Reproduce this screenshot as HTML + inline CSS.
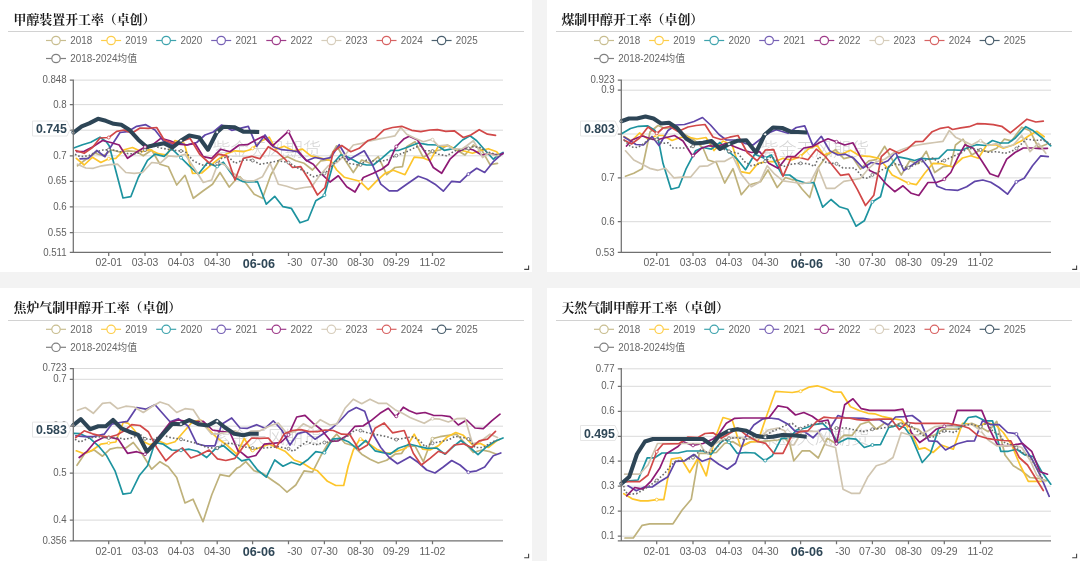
<!DOCTYPE html>
<html lang="zh-CN">
<head>
<meta charset="utf-8">
<title>甲醇开工率（卓创）</title>
<style>
html,body{margin:0;padding:0}
body{width:1080px;height:561px;background:#f3f3f3;overflow:hidden;position:relative;font-family:"Liberation Sans","Noto Sans CJK SC",sans-serif}
.panel{position:absolute;background:#fff;overflow:hidden}
.title{position:absolute;font:bold 12.9px/20px "Liberation Serif","Noto Serif CJK SC",serif;color:#1a1a1a;white-space:nowrap;letter-spacing:0}
.rule{position:absolute;width:516.5px;height:1px;background:#d2d2d2}
.chart{position:absolute;left:0;top:0}
.chart text{font-family:"Liberation Sans","Noto Sans CJK SC",sans-serif;font-size:10.4px;fill:#626262}
.chart text.st{text-anchor:start}
.lg text{fill:#666}
.yl text{text-anchor:end}
.xl text{text-anchor:middle}
.xl text.b,.cv{font-weight:bold;font-size:12px;fill:#2f4757}
.chart text.cv{font-weight:bold;font-size:12px;fill:#2f4757;text-anchor:end}
.chart .xl text.b{font-weight:bold;font-size:12px;fill:#2f4757}
.grid{stroke:#d2d2d2;stroke-width:0.85;fill:none}
.axis{stroke:#707070;stroke-width:1.25;fill:none}
.s{fill:none;stroke-width:1.7;stroke-linejoin:round;stroke-linecap:round}
.s.cur{stroke-width:4.1;stroke-linecap:butt}
.s.avg{stroke-width:1.6;stroke-dasharray:1.6 2;stroke-linecap:butt;stroke-linejoin:round}
.chart text.wm{font-family:"Liberation Sans","Noto Sans CJK SC",sans-serif;font-size:18.1px;font-weight:300;fill:#d6d6d6;text-anchor:middle}
.tag{fill:#fff;stroke:#e6e6e6;stroke-width:1}
.rz{fill:none;stroke:#444;stroke-width:1.1}
</style>
</head>
<body>

<div class="panel" style="left:0px;top:0px;width:532px;height:272px">
<div class="title" style="left:13.6px;top:9.5px">甲醇装置开工率（卓创）</div>
<div class="rule" style="left:7.5px;top:31px"></div>
<svg class="chart" style="left:0px" width="532" height="273" viewBox="0 0 532 273">
<g>
<g class="lg" transform="translate(0 0)">
<g opacity="0.85"><path d="M46 40.5 h20" stroke="#bfb27c" stroke-width="1.2" fill="none"/><circle cx="56" cy="40.5" r="4.2" fill="#fff" stroke="#bfb27c" stroke-width="1.2"/></g>
<text transform="translate(70.2 44.2) scale(0.95 1)">2018</text>
<g opacity="0.85"><path d="M101.1 40.5 h20" stroke="#fdc52a" stroke-width="1.2" fill="none"/><circle cx="111.1" cy="40.5" r="4.2" fill="#fff" stroke="#fdc52a" stroke-width="1.2"/></g>
<text transform="translate(125.3 44.2) scale(0.95 1)">2019</text>
<g opacity="0.85"><path d="M156.2 40.5 h20" stroke="#1d939f" stroke-width="1.2" fill="none"/><circle cx="166.2" cy="40.5" r="4.2" fill="#fff" stroke="#1d939f" stroke-width="1.2"/></g>
<text transform="translate(180.4 44.2) scale(0.95 1)">2020</text>
<g opacity="0.85"><path d="M211.2 40.5 h20" stroke="#5f45a8" stroke-width="1.2" fill="none"/><circle cx="221.2" cy="40.5" r="4.2" fill="#fff" stroke="#5f45a8" stroke-width="1.2"/></g>
<text transform="translate(235.4 44.2) scale(0.95 1)">2021</text>
<g opacity="0.85"><path d="M266.3 40.5 h20" stroke="#8e1a75" stroke-width="1.2" fill="none"/><circle cx="276.3" cy="40.5" r="4.2" fill="#fff" stroke="#8e1a75" stroke-width="1.2"/></g>
<text transform="translate(290.5 44.2) scale(0.95 1)">2022</text>
<g opacity="0.85"><path d="M321.4 40.5 h20" stroke="#d0c5b0" stroke-width="1.2" fill="none"/><circle cx="331.4" cy="40.5" r="4.2" fill="#fff" stroke="#d0c5b0" stroke-width="1.2"/></g>
<text transform="translate(345.6 44.2) scale(0.95 1)">2023</text>
<g opacity="0.85"><path d="M376.5 40.5 h20" stroke="#d14848" stroke-width="1.2" fill="none"/><circle cx="386.5" cy="40.5" r="4.2" fill="#fff" stroke="#d14848" stroke-width="1.2"/></g>
<text transform="translate(400.7 44.2) scale(0.95 1)">2024</text>
<g opacity="0.85"><path d="M431.6 40.5 h20" stroke="#2d4556" stroke-width="1.2" fill="none"/><circle cx="441.6" cy="40.5" r="4.2" fill="#fff" stroke="#2d4556" stroke-width="1.2"/></g>
<text transform="translate(455.8 44.2) scale(0.95 1)">2025</text>
<g opacity="0.85"><path d="M46 58.5 h20" stroke="#6a6a6a" stroke-width="1.2" fill="none"/><circle cx="56" cy="58.5" r="4.2" fill="#fff" stroke="#6a6a6a" stroke-width="1.2"/></g>
<text transform="translate(70.2 62.2) scale(0.95 1)">2018-2024均值</text>
</g>
<path class="grid" d="M73.3 80.1 H503 M73.3 104.6 H503 M73.3 130.2 H503 M73.3 155.8 H503 M73.3 181.3 H503 M73.3 206.9 H503 M73.3 232.5 H503"/>
<text class="wm" x="266.7" y="155.9">紫金天风期货</text>
</g>
<path class="s" stroke="#bfb27c" d="M77.5 165.8 L85 160 L95 153.3 L103.3 155.8 L111.7 150 L120 152 L128.3 150.8 L136.7 151.7 L143.3 155.8 L151.7 150 L160 164.2 L168.3 166.7 L176.7 185 L185 175.3 L193.3 198.3 L203.3 190.8 L212.5 184.2 L220 172.5 L229.2 187 L236.7 178.7 L240 176.7 L246.7 184.2 L254.2 194.2 L262.5 198.3 L270.8 175 L279.2 160 L287.5 156.7 L295.8 160.8 L304.2 163.3 L312.5 170 L320.8 160.8 L328.3 160 L336.7 145.8 L345 160 L353.3 172.5 L361.7 160 L370 163.3 L378.3 156.7 L386.7 174.7 L395 167.5 L402.5 166.7 L406.7 146.7 L415 141.7 L423.3 157.5 L431.7 151.7 L440 150 L447.5 145 L456.7 150 L465 155 L473.3 145 L481.7 150 L490 164.7 L497.5 163.3"/>
<path class="s" stroke="#fdc52a" d="M76.3 158.3 L84.2 165 L92.5 157.2 L100.8 162.5 L108.7 158.8 L115.8 158.3 L124.2 149.7 L132.5 147.5 L141.7 151.7 L150 149.7 L158.3 153.7 L166.7 155 L175 140.5 L184.2 143.3 L192.5 173.3 L201.7 173 L210 165.8 L218.3 159.2 L226.7 153.7 L235 150.8 L243.3 151.7 L251.7 149.2 L260.8 141.3 L269.2 137.2 L275.8 149.2 L284.2 146.3 L293.3 150.8 L302.5 149.2 L310.8 155.8 L321.7 158.3 L330.8 160.8 L336.7 170 L344.2 177.2 L360 181.3 L368.3 189.7 L376.7 180.8 L385 173.3 L393.3 170.3 L405 174.7 L414.2 157.2 L422.5 157.8 L430 160.8 L438.3 146.3 L447.5 145.8 L455.8 149.2 L463.3 150.8 L472.5 153.3 L480 150.8 L488.3 148.7 L496.7 151.7 L500 155.8"/>
<path class="s" stroke="#1d939f" d="M73.7 148 L82.5 144.7 L90.8 142.2 L100 137.2 L106.3 141.7 L109.2 145.8 L123 198 L130.8 196.7 L138.3 177.5 L147.5 160.3 L155 154.2 L164.2 156.3 L171.7 148.7 L180.8 157.5 L189.2 165.8 L198.3 174.2 L207.5 162.5 L216.7 166.7 L223.3 162.2 L234.2 177.5 L243.3 181.7 L248.3 182 L257.5 181.7 L266.3 204.2 L274.7 196.3 L283 206.7 L291.3 208.3 L300 222.8 L308 220 L315.8 200.8 L324.2 195.8 L333.3 163.3 L340.8 154.7 L348.3 157.2 L359.2 163.3 L366.7 165 L373.3 165 L381.7 158.3 L390.8 150.3 L398.3 150.5 L406.7 147.5 L418.3 143 L427.5 144.7 L436.7 145 L444.2 150.3 L453.3 148.7 L462.5 140 L470 135.8 L476.7 140.8 L483.3 148.3 L493.3 159.2 L498.3 155 L503 152.5"/>
<path class="s" stroke="#5f45a8" d="M80 158.8 L88.3 158.3 L96.7 150.5 L105 156.7 L108.7 150 L120 132.5 L127.5 131.7 L136.7 126.3 L145.8 124.7 L155 130 L163.3 140.8 L171.7 144.2 L180 143.3 L186.7 145 L196.7 142.5 L205 135 L213.3 132 L221.7 125 L231.7 130.3 L240 128.3 L248.3 126.3 L256.7 146.3 L265 135 L273.3 146.7 L281.7 149.7 L290 150.5 L297.5 151.7 L306.7 160.8 L315 157.5 L323.3 159.2 L330.8 157.5 L339.2 144.7 L348.3 160 L364.2 150.8 L372.5 165 L380.8 184.2 L389.2 190.8 L397.5 190.8 L406.7 184.2 L418.3 176.3 L426.7 179.2 L435 184.2 L443.3 191.2 L451.7 181.3 L460 182.2 L468.3 174.2 L476.7 168.3 L484.7 172.5 L493.3 161.7 L503 153"/>
<path class="s" stroke="#8e1a75" d="M76.7 151.7 L84.2 151.3 L92.5 147 L102.5 140.5 L110.8 142.5 L119.2 145 L127.5 158.3 L136.7 152 L145 147 L153.3 144.2 L160.8 138.3 L170 140.8 L178.3 144.2 L186.7 145 L195 143.3 L203.3 156.7 L211.7 158.3 L220.8 149.2 L230 151.7 L239.2 145 L247.5 144.7 L255.8 140 L263.3 136.3 L272.5 145.8 L288.3 131.3 L297.5 150 L305.8 160 L313.3 164.2 L321.7 174.2 L330 182 L338.3 175.8 L346.7 186.7 L355 192 L363.3 177.5 L373.3 173.3 L381.7 169.2 L388.3 164.2 L395.8 147 L404.2 138.7 L409.2 136.3 L417.5 140 L425.8 153.3 L433.3 167.5 L441.7 173.3 L450 159.2 L458.3 151.7 L465.8 148 L473.3 150 L481.7 155 L490 153.7 L498.3 155.3 L503 153.7"/>
<path class="s" stroke="#d0c5b0" d="M77.5 164.2 L85.8 168 L93.3 168.3 L101.7 165.8 L110 164.7 L117.5 164.2 L125.8 172.5 L134.2 173.3 L142.5 172.5 L151.7 162.5 L160 163.3 L168.3 155.8 L176.7 156.7 L185 154.2 L193.3 166.7 L203.3 182.5 L211.7 180 L218.3 162.5 L225 165 L233.3 173.3 L243.3 180 L246.7 180.8 L254.2 180.8 L262.5 176.7 L270 163 L278.3 184.2 L286.7 186.3 L295.8 189.2 L304.2 187.5 L311.7 186.7 L320 175 L328.3 165.8 L336.7 162.5 L345 155 L353.3 145 L361.7 143.3 L370 140.8 L378.3 139.2 L386.7 137.5 L395 135.8 L400.8 127.5 L406.7 134.2 L415 138.3 L423.3 141.7 L432 139.2 L438.3 145.8 L446.7 145 L453.3 149.2 L461.7 149.2 L466.7 145.8 L473.3 140.8 L480 151.7 L482.5 157.5 L488.3 153.3 L495.8 155.8 L499.2 155"/>
<path class="s" stroke="#d14848" d="M75.8 150.5 L84.2 153.3 L92.5 147.5 L100 138 L108.7 137.5 L116.7 131.3 L124.2 130 L131.7 133.3 L140 128 L148.3 128.3 L156.7 127.5 L164.2 140 L172.5 143.3 L180.8 141.7 L190 138.3 L200 154.7 L209.2 163 L218.3 154.2 L226.7 155.8 L235 180 L243.3 158.3 L251.7 156.3 L260 158.8 L268.3 146.7 L276.7 151.7 L284.2 158.3 L292.5 167.5 L300.8 166.7 L309.2 180 L317.5 195 L325 187.5 L333.3 151.7 L341.7 145.5 L350.8 151.7 L359.2 148.3 L367.5 140.8 L375 138.3 L384.2 129.7 L392.5 127.5 L401.7 126.3 L411.7 130.3 L420.8 131.7 L430 130 L437.5 129.7 L445.8 131.3 L454.2 130.8 L463.3 137.5 L470.8 135 L479.2 129.7 L487.5 134.2 L495.5 135.3"/>
<path class="s avg" stroke="#6a6a6a" d="M75 154.2 L80 156.7 L88.3 155.8 L96.7 151.7 L103.3 150 L111.7 149.7 L120 151.7 L128.3 153.7 L136.7 153.7 L145 150 L153.3 145.8 L160.8 148 L170 149.7 L178.3 150.8 L185 151.3 L193.3 160.8 L201.7 165 L210 165 L216.7 164.2 L221.7 158.3 L228.3 156.7 L235 163.3 L243.3 160 L251.7 160 L260 164.2 L270 162.5 L278.3 160.8 L288.3 162.5 L298.3 168.3 L306.7 172.5 L313.3 176.7 L325 173.3 L330.8 167.5 L336.7 160.8 L343.3 156.7 L348.3 163.3 L360 165.3 L366.7 160 L378.3 161.7 L386.7 160 L395.8 155.8 L406.7 151.7 L415 147.5 L420 145.8 L425 150.8 L432 150.8 L438.3 154.2 L446.7 155.8 L455 150.8 L463.3 150 L473.3 146.7 L480 147.5 L486.7 151.7 L495 154.2 L500 155"/>
<path class="s cur" stroke="#2d4556" d="M72.5 133.3 L81.7 126.3 L89.2 123.3 L98 118.8 L105.8 120.8 L113.7 123.8 L121.3 124.7 L129.2 129.7 L138.3 139.7 L146.7 147 L155 145 L164.2 143.3 L172.5 147.5 L180.8 140.8 L189.2 135.5 L199.2 137.5 L208 149.7 L216.7 132.5 L223.3 126.7 L234.2 127.2 L243.3 131.7 L250 131.7 L259.2 132"/>
<circle cx="432.5" cy="151.5" r="1.5" fill="#fff" stroke="#bfb27c" stroke-width="0.8"/>
<circle cx="108.7" cy="158.8" r="1.5" fill="#fff" stroke="#fdc52a" stroke-width="0.8"/>
<circle cx="252.6" cy="148.4" r="1.5" fill="#fff" stroke="#fdc52a" stroke-width="0.8"/>
<circle cx="360.5" cy="181.8" r="1.5" fill="#fff" stroke="#fdc52a" stroke-width="0.8"/>
<circle cx="181" cy="157.7" r="1.5" fill="#fff" stroke="#1d939f" stroke-width="0.8"/>
<circle cx="217.2" cy="166.4" r="1.5" fill="#fff" stroke="#1d939f" stroke-width="0.8"/>
<circle cx="324.4" cy="195.1" r="1.5" fill="#fff" stroke="#1d939f" stroke-width="0.8"/>
<circle cx="468.4" cy="174.1" r="1.5" fill="#fff" stroke="#5f45a8" stroke-width="0.8"/>
<circle cx="145" cy="147" r="1.5" fill="#fff" stroke="#8e1a75" stroke-width="0.8"/>
<circle cx="288.5" cy="131.7" r="1.5" fill="#fff" stroke="#8e1a75" stroke-width="0.8"/>
<circle cx="396.3" cy="146.5" r="1.5" fill="#fff" stroke="#8e1a75" stroke-width="0.8"/>
<circle cx="432.5" cy="139.7" r="1.5" fill="#fff" stroke="#d0c5b0" stroke-width="0.8"/>
<circle cx="108.7" cy="137.5" r="1.5" fill="#fff" stroke="#d14848" stroke-width="0.8"/>
<circle cx="108.7" cy="149.8" r="1.5" fill="#fff" stroke="#6a6a6a" stroke-width="0.8"/>
<circle cx="145" cy="150" r="1.5" fill="#fff" stroke="#6a6a6a" stroke-width="0.8"/>
<circle cx="181" cy="151" r="1.5" fill="#fff" stroke="#6a6a6a" stroke-width="0.8"/>
<circle cx="217.2" cy="163.6" r="1.5" fill="#fff" stroke="#6a6a6a" stroke-width="0.8"/>
<circle cx="252.6" cy="160.5" r="1.5" fill="#fff" stroke="#6a6a6a" stroke-width="0.8"/>
<circle cx="288.5" cy="162.6" r="1.5" fill="#fff" stroke="#6a6a6a" stroke-width="0.8"/>
<circle cx="324.4" cy="173.5" r="1.5" fill="#fff" stroke="#6a6a6a" stroke-width="0.8"/>
<circle cx="360.5" cy="164.9" r="1.5" fill="#fff" stroke="#6a6a6a" stroke-width="0.8"/>
<circle cx="396.3" cy="155.6" r="1.5" fill="#fff" stroke="#6a6a6a" stroke-width="0.8"/>
<circle cx="432.5" cy="151.1" r="1.5" fill="#fff" stroke="#6a6a6a" stroke-width="0.8"/>
<circle cx="468.4" cy="148.3" r="1.5" fill="#fff" stroke="#6a6a6a" stroke-width="0.8"/>
<circle cx="73.3" cy="132.7" r="1.5" fill="#fff" stroke="#2d4556" stroke-width="0.8"/>
<circle cx="181" cy="140.7" r="1.5" fill="#fff" stroke="#2d4556" stroke-width="0.8"/>
<circle cx="217.2" cy="132.1" r="1.5" fill="#fff" stroke="#2d4556" stroke-width="0.8"/>
<g>
<path class="axis" d="M73.3 79.5 V252.4 M72.8 252.4 H503 M69.8 80.1 h3.5 M69.8 104.6 h3.5 M69.8 130.2 h3.5 M69.8 155.8 h3.5 M69.8 181.3 h3.5 M69.8 206.9 h3.5 M69.8 232.5 h3.5 M69.8 252.4 h3.5 M108.7 252.4 v3.5 M145 252.4 v3.5 M181 252.4 v3.5 M217.2 252.4 v3.5 M252.6 252.4 v3.5 M288.5 252.4 v3.5 M324.4 252.4 v3.5 M360.5 252.4 v3.5 M396.3 252.4 v3.5 M432.5 252.4 v3.5"/>
<g class="yl">
<text transform="translate(66.6 83.1) scale(0.93 1)">0.848</text>
<text transform="translate(66.6 107.6) scale(0.93 1)">0.8</text>
<text transform="translate(66.6 158.8) scale(0.93 1)">0.7</text>
<text transform="translate(66.6 184.3) scale(0.93 1)">0.65</text>
<text transform="translate(66.6 209.9) scale(0.93 1)">0.6</text>
<text transform="translate(66.6 235.5) scale(0.93 1)">0.55</text>
<text transform="translate(66.6 255.6) scale(0.93 1)">0.511</text>
</g>
<g class="xl">
<text transform="translate(108.7 266.3) scale(1.0 1)">02-01</text>
<text transform="translate(145 266.3) scale(1.0 1)">03-03</text>
<text transform="translate(181 266.3) scale(1.0 1)">04-03</text>
<text transform="translate(217.2 266.3) scale(1.0 1)">04-30</text>
<text class="st" transform="translate(287.2 266.3) scale(1.0 1)">-30</text>
<text transform="translate(324.4 266.3) scale(1.0 1)">07-30</text>
<text transform="translate(360.5 266.3) scale(1.0 1)">08-30</text>
<text transform="translate(396.3 266.3) scale(1.0 1)">09-29</text>
<text transform="translate(432.5 266.3) scale(1.0 1)">11-02</text>
<text class="b" transform="translate(258.8 267.7) scale(1.05 1)">06-06</text>
</g>
<path class="tag" d="M32.5 121 H67 L70.5 128.5 L67 136 H32.5 Z"/>
<text class="cv" transform="translate(66.8 133.1) scale(1.03 1)">0.745</text>
<path class="rz" d="M524.2 269.4 H528.6 V265.4"/>
</g>
</svg></div>
<div class="panel" style="left:547px;top:0px;width:533px;height:272px">
<div class="title" style="left:14.4px;top:9.5px">煤制甲醇开工率（卓创）</div>
<div class="rule" style="left:8.5px;top:31px"></div>
<svg class="chart" style="left:1px" width="532" height="273" viewBox="0 0 532 273">
<g>
<g class="lg" transform="translate(0 0)">
<g opacity="0.85"><path d="M46 40.5 h20" stroke="#bfb27c" stroke-width="1.2" fill="none"/><circle cx="56" cy="40.5" r="4.2" fill="#fff" stroke="#bfb27c" stroke-width="1.2"/></g>
<text transform="translate(70.2 44.2) scale(0.95 1)">2018</text>
<g opacity="0.85"><path d="M101.1 40.5 h20" stroke="#fdc52a" stroke-width="1.2" fill="none"/><circle cx="111.1" cy="40.5" r="4.2" fill="#fff" stroke="#fdc52a" stroke-width="1.2"/></g>
<text transform="translate(125.3 44.2) scale(0.95 1)">2019</text>
<g opacity="0.85"><path d="M156.2 40.5 h20" stroke="#1d939f" stroke-width="1.2" fill="none"/><circle cx="166.2" cy="40.5" r="4.2" fill="#fff" stroke="#1d939f" stroke-width="1.2"/></g>
<text transform="translate(180.4 44.2) scale(0.95 1)">2020</text>
<g opacity="0.85"><path d="M211.2 40.5 h20" stroke="#5f45a8" stroke-width="1.2" fill="none"/><circle cx="221.2" cy="40.5" r="4.2" fill="#fff" stroke="#5f45a8" stroke-width="1.2"/></g>
<text transform="translate(235.4 44.2) scale(0.95 1)">2021</text>
<g opacity="0.85"><path d="M266.3 40.5 h20" stroke="#8e1a75" stroke-width="1.2" fill="none"/><circle cx="276.3" cy="40.5" r="4.2" fill="#fff" stroke="#8e1a75" stroke-width="1.2"/></g>
<text transform="translate(290.5 44.2) scale(0.95 1)">2022</text>
<g opacity="0.85"><path d="M321.4 40.5 h20" stroke="#d0c5b0" stroke-width="1.2" fill="none"/><circle cx="331.4" cy="40.5" r="4.2" fill="#fff" stroke="#d0c5b0" stroke-width="1.2"/></g>
<text transform="translate(345.6 44.2) scale(0.95 1)">2023</text>
<g opacity="0.85"><path d="M376.5 40.5 h20" stroke="#d14848" stroke-width="1.2" fill="none"/><circle cx="386.5" cy="40.5" r="4.2" fill="#fff" stroke="#d14848" stroke-width="1.2"/></g>
<text transform="translate(400.7 44.2) scale(0.95 1)">2024</text>
<g opacity="0.85"><path d="M431.6 40.5 h20" stroke="#2d4556" stroke-width="1.2" fill="none"/><circle cx="441.6" cy="40.5" r="4.2" fill="#fff" stroke="#2d4556" stroke-width="1.2"/></g>
<text transform="translate(455.8 44.2) scale(0.95 1)">2025</text>
<g opacity="0.85"><path d="M46 58.5 h20" stroke="#6a6a6a" stroke-width="1.2" fill="none"/><circle cx="56" cy="58.5" r="4.2" fill="#fff" stroke="#6a6a6a" stroke-width="1.2"/></g>
<text transform="translate(70.2 62.2) scale(0.95 1)">2018-2024均值</text>
</g>
<path class="grid" d="M73.3 80.1 H503 M73.3 90.2 H503 M73.3 134 H503 M73.3 177.9 H503 M73.3 221.7 H503"/>
<text class="wm" x="266.7" y="155.9">紫金天风期货</text>
</g>
<path class="s" stroke="#bfb27c" d="M77.5 176.3 L85.8 173.3 L94.2 168.8 L102 132 L110 125.5 L117 128.5 L125 127.5 L146 140 L155 148 L160 160 L168.3 162.5 L176.7 183 L185 168.7 L193.3 194.7 L201.7 184.7 L212.5 181.7 L220 170 L229.2 187.5 L237.5 177.5 L245 180 L246.7 179.2 L254.2 189.2 L261.7 197.5 L265.8 183.3 L270.8 166.7 L279.2 155 L287.5 149.7 L295.8 158.7 L304.2 156.7 L312.5 169.2 L320.8 160.8 L328.3 159.7 L336.7 146.3 L345 160.8 L353.3 175 L361.7 160.8 L370 163.8 L378.3 151.3 L386.7 172.5 L395 166.7 L402.5 165.8 L407.5 145 L415 139.2 L423.7 155 L432 150 L440.3 151.7 L448.7 148.3 L456.2 139.2 L463.7 140.8 L473.7 127.2 L482 130.8 L490.3 147.5 L498.7 144.2"/>
<path class="s" stroke="#fdc52a" d="M76 136.5 L83.5 141 L91.5 133 L100 139 L109 135.5 L115 135.5 L124 140.5 L132 137.5 L140 137 L149 139 L158 137.5 L166 150.5 L175 141 L184.2 145 L192.5 171.7 L201.7 173.3 L210 163.3 L218.3 161.7 L226.7 161.7 L235 158.3 L243.3 160 L251.7 157 L260.8 148.7 L269.2 145.5 L275.8 155 L284.2 151.7 L293.3 154.2 L302.5 150.3 L311.7 155.8 L321.7 156.3 L330.8 158.3 L338.3 166.7 L344.2 175 L360 183 L368.3 184.7 L376.7 173.3 L385 163.3 L393.3 163.7 L404.5 167 L414.5 158 L422.8 155.8 L430.3 158.3 L438.7 145 L447.8 144.7 L455.3 148.3 L465.3 145 L473.7 140.8 L481.2 135.5 L488.7 131.3 L496.2 136.7"/>
<path class="s" stroke="#1d939f" d="M74 133.5 L82.5 128.5 L90.5 126.3 L99.5 125.8 L107 130.5 L110 138 L115 163.3 L123 189.2 L130.8 187.2 L138.3 168.3 L147.5 150.8 L155 147.5 L163.3 149.2 L172 142.5 L180.8 151.7 L189.2 159.2 L197.5 169.7 L206.7 154.2 L216.7 158.3 L223.3 155 L234.2 175 L241.7 175 L248.3 180 L257.5 183 L265.8 182.5 L274.7 207.2 L283 199.5 L291.3 206.7 L299.7 209.2 L308 226.2 L316.3 220.8 L324.2 202 L332.5 196.7 L340 168.3 L349.2 156.7 L359.2 158.7 L366.7 160.5 L373.3 158.3 L381.7 159.2 L390.8 158.3 L399.2 150 L407 150 L413.7 150.3 L422 146.7 L428.7 144.7 L437 145.5 L444.5 140.5 L452 143 L460.3 143 L467 138.3 L477.8 126.7 L485.3 130.8 L493.7 137.5 L502.8 145.8"/>
<path class="s" stroke="#5f45a8" d="M76 137 L81 140 L88 144.5 L95.5 145 L104 136.5 L111 145.5 L120 130.5 L128 125 L136.5 124.5 L146 121.5 L154.5 117.5 L162.5 125 L171 134.5 L178.3 140 L186.7 140 L196.7 143.3 L205 145 L213.3 138.3 L221.7 132.5 L228.3 129.7 L240 133.3 L248.3 127.5 L256.7 125.8 L265 145.8 L273.3 136.3 L281.7 150.8 L290 155 L297.5 154.2 L305.8 158.3 L315 168 L323.3 162.5 L331.7 164.2 L340 160.8 L347.5 152.2 L355.8 170.5 L364.2 165 L373.3 158.7 L380.8 168.3 L389.2 186.3 L397.5 189.5 L410 190.3 L418.7 186.7 L427 181.3 L434.8 180 L442.8 182.2 L451.2 187.5 L459.5 194.2 L468.2 182 L476.2 178.3 L484.5 165.8 L492.8 155.8 L500.3 156.7"/>
<path class="s" stroke="#8e1a75" d="M78.5 146 L84 140 L90 137.5 L94.5 136 L105 139.5 L110 139.5 L126.5 135.5 L135 141 L144.5 156 L153.3 148.3 L160.8 145.8 L170 146.3 L178.3 143.3 L186.7 146.7 L195 150 L203.3 152.5 L211.7 151.7 L220.8 163.3 L230 168.3 L239.2 156.7 L246.7 156.7 L255.8 148 L264.2 146.7 L271.7 142.5 L280 138.8 L288.3 141.7 L296.7 145 L305 142.8 L313.3 158.3 L321.7 170.5 L330 174.5 L338.3 184.2 L346.7 191.7 L355 185.8 L363.3 193.3 L370.8 195.5 L380 182.5 L388.3 182.5 L395.8 179.7 L402.8 172.5 L410.3 156.7 L417 144.7 L425.3 148.3 L433.7 160.8 L442 173.8 L450.3 176.7 L458.7 159.2 L467 152.5 L475.3 148 L483.7 148 L492 148.7 L499.5 148.3"/>
<path class="s" stroke="#d0c5b0" d="M77.5 150.8 L85.8 160 L94.2 164.2 L101.7 168.3 L110 170.3 L117.5 168.3 L125.8 177.8 L134.2 177.2 L142.5 177.2 L151.7 166.3 L160 165.8 L168.3 161.3 L176.7 161.3 L185 156.7 L193.3 174.2 L203.3 186.7 L211.7 182 L219.2 165.8 L226.7 174.2 L235 180.8 L243.3 182 L246.7 182.5 L254.2 183.7 L262.5 182 L270 167.5 L278.3 188.3 L286.7 188.3 L295.8 181.3 L304.2 180 L312.5 178.3 L320 169.2 L328.3 161.7 L336.7 159.2 L345 153.3 L353.3 149.7 L361.7 146.7 L370 145 L378.3 143.7 L386.7 142.5 L395 141.3 L401.3 130.5 L407.5 137.2 L415.3 140.8 L423.7 145 L432 140.5 L440.3 145.5 L448.7 143.7 L455.3 147.5 L465.3 145 L473.7 135.5 L482 151.7 L490.3 143.3 L497.8 153.3"/>
<path class="s" stroke="#d14848" d="M76 140 L83.5 144 L91.5 138 L100 127 L109 133.5 L115 128 L122 126.5 L130 131.5 L140 127 L148 125.5 L157 124.5 L165 137 L173 139.5 L181.7 137.2 L190 135.5 L199.2 152.5 L209.2 160.8 L217.5 150 L225.8 149.7 L235 176.3 L243.3 157.5 L251.7 157.5 L260 159.7 L268.3 149.2 L276.7 155.8 L284.2 165 L292.5 175.3 L300.8 174.2 L309.2 189.2 L317.5 205.5 L325.8 195.3 L333.3 156.7 L341.7 148.8 L350.8 153.3 L359.2 149.2 L367.5 141.7 L375 141.3 L384.2 131.7 L392.5 128.3 L400.3 127 L404.5 129.5 L412.8 127.8 L421.2 126.7 L429 123.7 L437 123.8 L445.3 124.7 L453.7 126.3 L462.3 132.8 L470.3 126.3 L479 119.2 L487.8 122 L495.3 121.2"/>
<path class="s avg" stroke="#6a6a6a" d="M76 140 L83 147 L90 147.5 L96 143.5 L101 139 L109 139.5 L114 143.5 L120 142.8 L125 148 L136 148 L144.5 146.5 L154 142 L160.8 143 L170 146.7 L180.8 151.3 L190 153.3 L196.7 161.7 L203.3 165.8 L210 164.2 L216.7 161.7 L223.3 156.7 L228.3 160 L235 166.7 L243.3 164.2 L251.7 163.3 L260 163.7 L266.7 166.3 L270.8 156.7 L278.3 162.5 L288.3 163.7 L295 168 L306.7 168 L315 177.5 L320 178.3 L324.2 175 L330.8 171.7 L340 166.7 L348.3 163.8 L360 168 L366.7 164.7 L378.3 160 L385 158 L390 162 L395.8 160.8 L403.7 157 L413.7 152.5 L420.3 148 L425.3 149.2 L432 149.7 L440.3 152.2 L448.7 151.7 L457 153.3 L462.8 151.7 L468.2 148.7 L478.7 139.2 L487 140.3 L495.3 140 L502.8 144.2"/>
<path class="s cur" stroke="#2d4556" d="M72.8 121.5 L81 118.5 L89 118.5 L97.5 116.5 L105.5 118.5 L113 123.5 L121 122.8 L129 128 L138 138.5 L146 143.5 L155 142.8 L163.5 141 L172 149 L180.8 144.2 L189.2 140.8 L198.3 140.3 L208 152.5 L216.7 134.7 L225 127.5 L234.2 128 L243.3 132 L250 132 L259.2 132.5"/>
<circle cx="432.5" cy="150.1" r="1.5" fill="#fff" stroke="#bfb27c" stroke-width="0.8"/>
<circle cx="108.7" cy="135.6" r="1.5" fill="#fff" stroke="#fdc52a" stroke-width="0.8"/>
<circle cx="252.6" cy="156.2" r="1.5" fill="#fff" stroke="#fdc52a" stroke-width="0.8"/>
<circle cx="360.5" cy="183.1" r="1.5" fill="#fff" stroke="#fdc52a" stroke-width="0.8"/>
<circle cx="181" cy="151.9" r="1.5" fill="#fff" stroke="#1d939f" stroke-width="0.8"/>
<circle cx="217.2" cy="158.1" r="1.5" fill="#fff" stroke="#1d939f" stroke-width="0.8"/>
<circle cx="324.4" cy="201.9" r="1.5" fill="#fff" stroke="#1d939f" stroke-width="0.8"/>
<circle cx="468.4" cy="181.9" r="1.5" fill="#fff" stroke="#5f45a8" stroke-width="0.8"/>
<circle cx="145" cy="155.6" r="1.5" fill="#fff" stroke="#8e1a75" stroke-width="0.8"/>
<circle cx="288.5" cy="141.8" r="1.5" fill="#fff" stroke="#8e1a75" stroke-width="0.8"/>
<circle cx="396.3" cy="179.2" r="1.5" fill="#fff" stroke="#8e1a75" stroke-width="0.8"/>
<circle cx="432.5" cy="140.8" r="1.5" fill="#fff" stroke="#d0c5b0" stroke-width="0.8"/>
<circle cx="108.7" cy="133.3" r="1.5" fill="#fff" stroke="#d14848" stroke-width="0.8"/>
<circle cx="108.7" cy="139.5" r="1.5" fill="#fff" stroke="#6a6a6a" stroke-width="0.8"/>
<circle cx="145" cy="146.3" r="1.5" fill="#fff" stroke="#6a6a6a" stroke-width="0.8"/>
<circle cx="181" cy="151.3" r="1.5" fill="#fff" stroke="#6a6a6a" stroke-width="0.8"/>
<circle cx="217.2" cy="161.3" r="1.5" fill="#fff" stroke="#6a6a6a" stroke-width="0.8"/>
<circle cx="252.6" cy="163.3" r="1.5" fill="#fff" stroke="#6a6a6a" stroke-width="0.8"/>
<circle cx="288.5" cy="163.8" r="1.5" fill="#fff" stroke="#6a6a6a" stroke-width="0.8"/>
<circle cx="324.4" cy="174.9" r="1.5" fill="#fff" stroke="#6a6a6a" stroke-width="0.8"/>
<circle cx="360.5" cy="167.8" r="1.5" fill="#fff" stroke="#6a6a6a" stroke-width="0.8"/>
<circle cx="396.3" cy="160.6" r="1.5" fill="#fff" stroke="#6a6a6a" stroke-width="0.8"/>
<circle cx="432.5" cy="149.9" r="1.5" fill="#fff" stroke="#6a6a6a" stroke-width="0.8"/>
<circle cx="468.4" cy="148.5" r="1.5" fill="#fff" stroke="#6a6a6a" stroke-width="0.8"/>
<circle cx="73.3" cy="121.3" r="1.5" fill="#fff" stroke="#2d4556" stroke-width="0.8"/>
<circle cx="181" cy="144.1" r="1.5" fill="#fff" stroke="#2d4556" stroke-width="0.8"/>
<circle cx="217.2" cy="134.3" r="1.5" fill="#fff" stroke="#2d4556" stroke-width="0.8"/>
<g>
<path class="axis" d="M73.3 79.5 V252.4 M72.8 252.4 H503 M69.8 80.1 h3.5 M69.8 90.2 h3.5 M69.8 134 h3.5 M69.8 177.9 h3.5 M69.8 221.7 h3.5 M69.8 252.4 h3.5 M108.7 252.4 v3.5 M145 252.4 v3.5 M181 252.4 v3.5 M217.2 252.4 v3.5 M252.6 252.4 v3.5 M288.5 252.4 v3.5 M324.4 252.4 v3.5 M360.5 252.4 v3.5 M396.3 252.4 v3.5 M432.5 252.4 v3.5"/>
<g class="yl">
<text transform="translate(66.6 83.1) scale(0.93 1)">0.923</text>
<text transform="translate(66.6 93.2) scale(0.93 1)">0.9</text>
<text transform="translate(66.6 180.9) scale(0.93 1)">0.7</text>
<text transform="translate(66.6 224.7) scale(0.93 1)">0.6</text>
<text transform="translate(66.6 255.6) scale(0.93 1)">0.53</text>
</g>
<g class="xl">
<text transform="translate(108.7 266.3) scale(1.0 1)">02-01</text>
<text transform="translate(145 266.3) scale(1.0 1)">03-03</text>
<text transform="translate(181 266.3) scale(1.0 1)">04-03</text>
<text transform="translate(217.2 266.3) scale(1.0 1)">04-30</text>
<text class="st" transform="translate(287.2 266.3) scale(1.0 1)">-30</text>
<text transform="translate(324.4 266.3) scale(1.0 1)">07-30</text>
<text transform="translate(360.5 266.3) scale(1.0 1)">08-30</text>
<text transform="translate(396.3 266.3) scale(1.0 1)">09-29</text>
<text transform="translate(432.5 266.3) scale(1.0 1)">11-02</text>
<text class="b" transform="translate(258.8 267.7) scale(1.05 1)">06-06</text>
</g>
<path class="tag" d="M32.5 121 H67 L70.5 128.5 L67 136 H32.5 Z"/>
<text class="cv" transform="translate(66.8 133.1) scale(1.03 1)">0.803</text>
<path class="rz" d="M524.2 269.4 H528.6 V265.4"/>
</g>
</svg></div>
<div class="panel" style="left:0px;top:288px;width:532px;height:272.6px">
<div class="title" style="left:13.6px;top:10.3px">焦炉气制甲醇开工率（卓创）</div>
<div class="rule" style="left:7.5px;top:31.8px"></div>
<svg class="chart" style="left:0px" width="532" height="273" viewBox="0 0 532 273">
<g transform="translate(0 0.4)">
<g class="lg" transform="translate(0 0.4)">
<g opacity="0.85"><path d="M46 40.5 h20" stroke="#bfb27c" stroke-width="1.2" fill="none"/><circle cx="56" cy="40.5" r="4.2" fill="#fff" stroke="#bfb27c" stroke-width="1.2"/></g>
<text transform="translate(70.2 44.2) scale(0.95 1)">2018</text>
<g opacity="0.85"><path d="M101.1 40.5 h20" stroke="#fdc52a" stroke-width="1.2" fill="none"/><circle cx="111.1" cy="40.5" r="4.2" fill="#fff" stroke="#fdc52a" stroke-width="1.2"/></g>
<text transform="translate(125.3 44.2) scale(0.95 1)">2019</text>
<g opacity="0.85"><path d="M156.2 40.5 h20" stroke="#1d939f" stroke-width="1.2" fill="none"/><circle cx="166.2" cy="40.5" r="4.2" fill="#fff" stroke="#1d939f" stroke-width="1.2"/></g>
<text transform="translate(180.4 44.2) scale(0.95 1)">2020</text>
<g opacity="0.85"><path d="M211.2 40.5 h20" stroke="#5f45a8" stroke-width="1.2" fill="none"/><circle cx="221.2" cy="40.5" r="4.2" fill="#fff" stroke="#5f45a8" stroke-width="1.2"/></g>
<text transform="translate(235.4 44.2) scale(0.95 1)">2021</text>
<g opacity="0.85"><path d="M266.3 40.5 h20" stroke="#8e1a75" stroke-width="1.2" fill="none"/><circle cx="276.3" cy="40.5" r="4.2" fill="#fff" stroke="#8e1a75" stroke-width="1.2"/></g>
<text transform="translate(290.5 44.2) scale(0.95 1)">2022</text>
<g opacity="0.85"><path d="M321.4 40.5 h20" stroke="#d0c5b0" stroke-width="1.2" fill="none"/><circle cx="331.4" cy="40.5" r="4.2" fill="#fff" stroke="#d0c5b0" stroke-width="1.2"/></g>
<text transform="translate(345.6 44.2) scale(0.95 1)">2023</text>
<g opacity="0.85"><path d="M376.5 40.5 h20" stroke="#d14848" stroke-width="1.2" fill="none"/><circle cx="386.5" cy="40.5" r="4.2" fill="#fff" stroke="#d14848" stroke-width="1.2"/></g>
<text transform="translate(400.7 44.2) scale(0.95 1)">2024</text>
<g opacity="0.85"><path d="M431.6 40.5 h20" stroke="#2d4556" stroke-width="1.2" fill="none"/><circle cx="441.6" cy="40.5" r="4.2" fill="#fff" stroke="#2d4556" stroke-width="1.2"/></g>
<text transform="translate(455.8 44.2) scale(0.95 1)">2025</text>
<g opacity="0.85"><path d="M46 58.5 h20" stroke="#6a6a6a" stroke-width="1.2" fill="none"/><circle cx="56" cy="58.5" r="4.2" fill="#fff" stroke="#6a6a6a" stroke-width="1.2"/></g>
<text transform="translate(70.2 62.2) scale(0.95 1)">2018-2024均值</text>
</g>
<path class="grid" d="M73.3 80.1 H503 M73.3 90.9 H503 M73.3 137.8 H503 M73.3 184.8 H503 M73.3 231.7 H503"/>
<text class="wm" x="266.7" y="155.9">紫金天风期货</text>
</g>
<path class="s" stroke="#bfb27c" d="M77 177.3 L85 165.3 L94.2 162 L102.5 168.2 L110 161.2 L117.5 159.5 L125.8 160 L133.3 154.5 L141.7 165.3 L151.7 181.2 L160 173.7 L168.3 178.7 L176.7 189.5 L185 215 L193 211.2 L203 233.7 L211.7 207 L220 186.7 L229.2 188.3 L236.7 180.3 L240 178.7 L245.8 173.7 L254.2 182.8 L262.5 185.3 L270.8 191.2 L279.2 197 L287 204.2 L295.8 197 L304.2 182.8 L312.5 184.2 L320.8 167.8 L328.3 155.3 L336.7 146.2 L345 155.3 L353.3 157.8 L361.7 166.2 L370 171.2 L378.3 175 L386.7 172.3 L395 166.2 L401.7 165.3 L405.8 158.7 L415 157.8 L423.3 173.7 L432 150.8 L440 148.7 L448.3 147.3 L456.7 146.2 L465 155.3 L473.3 164.5 L481.7 162 L490 163.7 L496.7 166.2"/>
<path class="s" stroke="#fdc52a" d="M76.3 162.8 L84.2 165.8 L92.5 162 L100.8 156.2 L108.7 155 L115.8 154 L123.3 134.2 L128.3 135.3 L134.2 142 L141.7 152.8 L150 156.7 L158.3 152.8 L166.7 156.2 L175 153.7 L184.2 143.3 L192.5 133.7 L200.8 132 L208.3 141.2 L216.7 149.5 L226.7 157 L236.7 166.2 L244.2 150.3 L251.7 162.8 L260 159.5 L269.2 156.2 L276.7 159.5 L285 163.2 L294.2 172 L302.5 175 L310.8 180.3 L317.5 182.8 L327.5 193.3 L335.8 197.5 L343.7 197.5 L348.3 177.8 L353.3 162 L360 150.8 L368.3 155.3 L376.7 161.2 L386.7 165.3 L393.3 164.5 L405.8 160.3 L414.2 146.2 L422.5 161.2 L430 162 L438.3 157.8 L447.5 148.7 L455.8 144.5 L463.3 147.3 L472.5 157 L480 155.3 L488.3 159.5 L496.7 152.8 L500 151.2"/>
<path class="s" stroke="#1d939f" d="M73.7 145.3 L80 145.7 L90 150.3 L98.3 157.8 L106.7 167.8 L115 182.8 L123 206.2 L130.8 205 L139.2 187.8 L147.5 177.8 L155 154.5 L163.3 156.2 L171.7 162 L180.8 162.3 L189.2 161.2 L197.5 163.3 L206.7 169.5 L215 161.2 L223.3 157.5 L232.5 165.3 L241.7 172.8 L249.2 171.2 L257.5 182 L266.3 189.2 L274.7 172 L283 178.2 L291.3 174.2 L300 177 L308.3 171.2 L315.8 163.7 L324.2 165 L332.5 151.2 L340 150.3 L348.3 153.7 L356.7 160.3 L365.8 152.5 L375 162.8 L390 166.2 L398.3 160.3 L410 156.2 L418.3 158.3 L427.5 160.3 L436.7 160 L445 166.2 L453.3 158.7 L460.8 152.5 L470 159.5 L478 166.7 L486.7 158.7 L495 153.3 L503 150"/>
<path class="s" stroke="#5f45a8" d="M75.8 147.8 L85 148.7 L93.3 148.7 L104.2 146.2 L111.7 136.2 L120 134.5 L127.5 133.3 L136.7 119.5 L145.8 121.2 L155 116.7 L162.5 125.3 L170 133.7 L178.3 130.7 L188.3 138.3 L196.7 155.7 L205 157.8 L215 157.8 L221.7 136.2 L231.7 130 L240 140 L247.5 140.3 L256.7 136.7 L265 140.3 L273.3 132.8 L281.7 142 L290 157 L297.5 145.7 L305.8 143.7 L315 151.2 L323.3 145.7 L331.7 140.3 L339.2 133.7 L348.3 123.7 L356.3 119.5 L364.7 123.3 L372.5 145.3 L380.8 159.5 L389.2 169.5 L397.5 175.7 L410 168.7 L418.3 174.5 L426.7 182 L435 185 L443.3 179 L451.7 172.5 L460 177 L468.3 184.2 L476.7 182.8 L484.7 179 L493.3 167.8 L500.8 165"/>
<path class="s" stroke="#8e1a75" d="M79.2 169.5 L86.7 163.7 L95 153.7 L103.3 149.5 L110.8 149.5 L118.3 151.2 L127.5 165.3 L136.7 163.7 L145 166.2 L153.3 155.3 L160.8 146.2 L170 134.5 L178.3 132 L186.7 133.3 L195 133.7 L203.3 133.3 L212.5 142 L220.8 143.3 L230 144.5 L238.3 163.3 L240 163.3 L247.5 169.5 L255.8 167.5 L264.2 156.2 L272.5 155.3 L280.8 154.5 L288.3 147.3 L296.7 129 L305 127.3 L313.3 135.3 L321.7 142 L330.8 153.3 L338.3 152.8 L346.7 147.8 L355 138.3 L363.3 137.8 L370.8 132.8 L380 125.3 L388.3 120.3 L395.8 129 L403.3 119.2 L409.2 122.8 L416.7 125.7 L425 124.5 L433.3 127.3 L441.7 127.5 L450 128.7 L458.3 137 L466.7 132 L475 140 L483.3 140.7 L491.7 132.8 L500 126.2"/>
<path class="s" stroke="#d0c5b0" d="M77.5 122.3 L85.3 119.5 L93.3 125.3 L102.5 115.3 L110 114.5 L117.5 120.7 L125.8 118.2 L134.2 119 L143.3 124.5 L151.7 118.7 L160 114 L168.3 116.7 L176.7 124.5 L185 120.7 L193.3 121.7 L201.7 134.5 L211.7 146.2 L218.3 145.7 L226.7 144.5 L235 142.8 L243.3 147 L250 143.7 L260 142.8 L270 137.8 L278.3 135 L286.7 145.3 L295 143.7 L303.3 135.8 L311.7 140 L320.3 131.7 L330 137 L336.7 136.2 L345 120.3 L353.3 111.2 L361.7 115.7 L370 111.2 L378.3 115.3 L386.7 115.3 L395 121.7 L402.5 125.3 L410 129.5 L416.7 132.3 L424.2 135.3 L432 130.7 L440 131.2 L448.3 134 L456.7 130.7 L465 130.3 L472.5 155.7 L480 153.7 L490 146.2 L497.5 149.5"/>
<path class="s" stroke="#d14848" d="M75.8 149.5 L84.2 142.8 L92.5 145.8 L100.8 147.8 L108.7 149.2 L116.7 147 L124.2 142.8 L131.7 136.7 L140 137.5 L148.3 143.7 L156.7 159.5 L165.8 172.8 L174.2 165 L182.5 160 L190.8 170 L199.2 167 L209.2 162 L217.5 170.8 L225.8 172.5 L235 170.3 L243.3 158.7 L251.7 150 L260 150.3 L268.3 150 L276.3 159.5 L284.2 145.8 L292.5 142.5 L300.8 141.7 L309.2 143.7 L317.5 143.7 L325 142 L333.3 142.5 L341.7 146.2 L350 146.7 L359.2 162 L367.5 157 L375 140.3 L384.2 135 L392.5 144.8 L404.2 142.5 L413.3 165.3 L421.3 177 L430 170.3 L438.3 163.3 L445.8 165.7 L454.2 157 L463.3 155.8 L471.7 159.5 L479.2 152.8 L487.5 151.2 L495.5 143.3"/>
<path class="s avg" stroke="#6a6a6a" d="M75 151.2 L80 154 L88.3 150.3 L98.3 148.7 L108.7 150 L116.7 149.5 L125 151.2 L133.3 149.5 L140 146.2 L145 150.8 L153.3 151.7 L161.7 146.7 L170 149.5 L180.8 151.2 L190 153.7 L198.3 155.7 L206.7 159.5 L216.7 160.3 L223.3 156.2 L230 155 L236.7 157 L243.3 158.7 L251.7 160 L260 160.3 L270 159.5 L278.3 158.7 L288.3 160.7 L293.3 163.3 L298.3 159.5 L306.7 153.7 L315 157 L324.2 154.5 L330.8 153.7 L340 151.7 L348.3 147.8 L355 142 L360 142.5 L366.7 144.5 L378.3 147 L386.7 148.7 L395.8 151.7 L403.3 150.3 L413.3 148.7 L420 152.8 L425 158.7 L432 155.3 L440 153.7 L448.3 152 L455 148.3 L463.3 149.5 L469.2 151.2 L475 159.5 L483.3 159.5 L490 155.3 L496.7 152"/>
<path class="s cur" stroke="#2d4556" d="M72.5 137.8 L80.8 131.2 L90 141.2 L98.3 138.3 L105.8 138.3 L113 132 L121.3 140.3 L129.2 143.7 L138.3 147 L147 163.7 L155 155.3 L163.3 145.7 L172.5 135.7 L180.8 136.2 L189.2 132 L198.3 136.2 L208 137.5 L216.7 132.8 L225 139.5 L234.2 145.7 L243.3 147.3 L250 145.7 L258.7 145.7"/>
<circle cx="432.5" cy="150.7" r="1.5" fill="#fff" stroke="#bfb27c" stroke-width="0.8"/>
<circle cx="108.7" cy="155" r="1.5" fill="#fff" stroke="#fdc52a" stroke-width="0.8"/>
<circle cx="252.6" cy="162.4" r="1.5" fill="#fff" stroke="#fdc52a" stroke-width="0.8"/>
<circle cx="360.5" cy="151.1" r="1.5" fill="#fff" stroke="#fdc52a" stroke-width="0.8"/>
<circle cx="181" cy="162.3" r="1.5" fill="#fff" stroke="#1d939f" stroke-width="0.8"/>
<circle cx="217.2" cy="160.2" r="1.5" fill="#fff" stroke="#1d939f" stroke-width="0.8"/>
<circle cx="324.4" cy="164.7" r="1.5" fill="#fff" stroke="#1d939f" stroke-width="0.8"/>
<circle cx="468.4" cy="184.2" r="1.5" fill="#fff" stroke="#5f45a8" stroke-width="0.8"/>
<circle cx="145" cy="166.2" r="1.5" fill="#fff" stroke="#8e1a75" stroke-width="0.8"/>
<circle cx="288.5" cy="146.9" r="1.5" fill="#fff" stroke="#8e1a75" stroke-width="0.8"/>
<circle cx="396.3" cy="128.3" r="1.5" fill="#fff" stroke="#8e1a75" stroke-width="0.8"/>
<circle cx="432.5" cy="130.7" r="1.5" fill="#fff" stroke="#d0c5b0" stroke-width="0.8"/>
<circle cx="108.7" cy="149.2" r="1.5" fill="#fff" stroke="#d14848" stroke-width="0.8"/>
<circle cx="108.7" cy="150" r="1.5" fill="#fff" stroke="#6a6a6a" stroke-width="0.8"/>
<circle cx="145" cy="150.8" r="1.5" fill="#fff" stroke="#6a6a6a" stroke-width="0.8"/>
<circle cx="181" cy="151.3" r="1.5" fill="#fff" stroke="#6a6a6a" stroke-width="0.8"/>
<circle cx="217.2" cy="160" r="1.5" fill="#fff" stroke="#6a6a6a" stroke-width="0.8"/>
<circle cx="252.6" cy="160" r="1.5" fill="#fff" stroke="#6a6a6a" stroke-width="0.8"/>
<circle cx="288.5" cy="160.8" r="1.5" fill="#fff" stroke="#6a6a6a" stroke-width="0.8"/>
<circle cx="324.4" cy="154.5" r="1.5" fill="#fff" stroke="#6a6a6a" stroke-width="0.8"/>
<circle cx="360.5" cy="142.6" r="1.5" fill="#fff" stroke="#6a6a6a" stroke-width="0.8"/>
<circle cx="396.3" cy="151.6" r="1.5" fill="#fff" stroke="#6a6a6a" stroke-width="0.8"/>
<circle cx="432.5" cy="155.2" r="1.5" fill="#fff" stroke="#6a6a6a" stroke-width="0.8"/>
<circle cx="468.4" cy="151" r="1.5" fill="#fff" stroke="#6a6a6a" stroke-width="0.8"/>
<circle cx="73.3" cy="137.2" r="1.5" fill="#fff" stroke="#2d4556" stroke-width="0.8"/>
<circle cx="181" cy="136.1" r="1.5" fill="#fff" stroke="#2d4556" stroke-width="0.8"/>
<circle cx="217.2" cy="133.2" r="1.5" fill="#fff" stroke="#2d4556" stroke-width="0.8"/>
<g transform="translate(0 0.4)">
<path class="axis" d="M73.3 79.5 V252.4 M72.8 252.4 H503 M69.8 80.1 h3.5 M69.8 90.9 h3.5 M69.8 137.8 h3.5 M69.8 184.8 h3.5 M69.8 231.7 h3.5 M69.8 252.4 h3.5 M108.7 252.4 v3.5 M145 252.4 v3.5 M181 252.4 v3.5 M217.2 252.4 v3.5 M252.6 252.4 v3.5 M288.5 252.4 v3.5 M324.4 252.4 v3.5 M360.5 252.4 v3.5 M396.3 252.4 v3.5 M432.5 252.4 v3.5"/>
<g class="yl">
<text transform="translate(66.6 83.1) scale(0.93 1)">0.723</text>
<text transform="translate(66.6 93.9) scale(0.93 1)">0.7</text>
<text transform="translate(66.6 140.8) scale(0.93 1)">0.6</text>
<text transform="translate(66.6 187.8) scale(0.93 1)">0.5</text>
<text transform="translate(66.6 234.7) scale(0.93 1)">0.4</text>
<text transform="translate(66.6 255.6) scale(0.93 1)">0.356</text>
</g>
<g class="xl">
<text transform="translate(108.7 266.3) scale(1.0 1)">02-01</text>
<text transform="translate(145 266.3) scale(1.0 1)">03-03</text>
<text transform="translate(181 266.3) scale(1.0 1)">04-03</text>
<text transform="translate(217.2 266.3) scale(1.0 1)">04-30</text>
<text class="st" transform="translate(287.2 266.3) scale(1.0 1)">-30</text>
<text transform="translate(324.4 266.3) scale(1.0 1)">07-30</text>
<text transform="translate(360.5 266.3) scale(1.0 1)">08-30</text>
<text transform="translate(396.3 266.3) scale(1.0 1)">09-29</text>
<text transform="translate(432.5 266.3) scale(1.0 1)">11-02</text>
<text class="b" transform="translate(258.8 267.7) scale(1.05 1)">06-06</text>
</g>
<path class="tag" d="M32.5 133.7 H67 L70.5 141.2 L67 148.7 H32.5 Z"/>
<text class="cv" transform="translate(66.8 145.8) scale(1.03 1)">0.583</text>
<path class="rz" d="M524.2 269.4 H528.6 V265.4"/>
</g>
</svg></div>
<div class="panel" style="left:547px;top:288px;width:533px;height:272.6px">
<div class="title" style="left:14.4px;top:10.3px">天然气制甲醇开工率（卓创）</div>
<div class="rule" style="left:8.5px;top:31.8px"></div>
<svg class="chart" style="left:1px" width="532" height="273" viewBox="0 0 532 273">
<g transform="translate(0 0.4)">
<g class="lg" transform="translate(0 0.4)">
<g opacity="0.85"><path d="M46 40.5 h20" stroke="#bfb27c" stroke-width="1.2" fill="none"/><circle cx="56" cy="40.5" r="4.2" fill="#fff" stroke="#bfb27c" stroke-width="1.2"/></g>
<text transform="translate(70.2 44.2) scale(0.95 1)">2018</text>
<g opacity="0.85"><path d="M101.1 40.5 h20" stroke="#fdc52a" stroke-width="1.2" fill="none"/><circle cx="111.1" cy="40.5" r="4.2" fill="#fff" stroke="#fdc52a" stroke-width="1.2"/></g>
<text transform="translate(125.3 44.2) scale(0.95 1)">2019</text>
<g opacity="0.85"><path d="M156.2 40.5 h20" stroke="#1d939f" stroke-width="1.2" fill="none"/><circle cx="166.2" cy="40.5" r="4.2" fill="#fff" stroke="#1d939f" stroke-width="1.2"/></g>
<text transform="translate(180.4 44.2) scale(0.95 1)">2020</text>
<g opacity="0.85"><path d="M211.2 40.5 h20" stroke="#5f45a8" stroke-width="1.2" fill="none"/><circle cx="221.2" cy="40.5" r="4.2" fill="#fff" stroke="#5f45a8" stroke-width="1.2"/></g>
<text transform="translate(235.4 44.2) scale(0.95 1)">2021</text>
<g opacity="0.85"><path d="M266.3 40.5 h20" stroke="#8e1a75" stroke-width="1.2" fill="none"/><circle cx="276.3" cy="40.5" r="4.2" fill="#fff" stroke="#8e1a75" stroke-width="1.2"/></g>
<text transform="translate(290.5 44.2) scale(0.95 1)">2022</text>
<g opacity="0.85"><path d="M321.4 40.5 h20" stroke="#d0c5b0" stroke-width="1.2" fill="none"/><circle cx="331.4" cy="40.5" r="4.2" fill="#fff" stroke="#d0c5b0" stroke-width="1.2"/></g>
<text transform="translate(345.6 44.2) scale(0.95 1)">2023</text>
<g opacity="0.85"><path d="M376.5 40.5 h20" stroke="#d14848" stroke-width="1.2" fill="none"/><circle cx="386.5" cy="40.5" r="4.2" fill="#fff" stroke="#d14848" stroke-width="1.2"/></g>
<text transform="translate(400.7 44.2) scale(0.95 1)">2024</text>
<g opacity="0.85"><path d="M431.6 40.5 h20" stroke="#2d4556" stroke-width="1.2" fill="none"/><circle cx="441.6" cy="40.5" r="4.2" fill="#fff" stroke="#2d4556" stroke-width="1.2"/></g>
<text transform="translate(455.8 44.2) scale(0.95 1)">2025</text>
<g opacity="0.85"><path d="M46 58.5 h20" stroke="#6a6a6a" stroke-width="1.2" fill="none"/><circle cx="56" cy="58.5" r="4.2" fill="#fff" stroke="#6a6a6a" stroke-width="1.2"/></g>
<text transform="translate(70.2 62.2) scale(0.95 1)">2018-2024均值</text>
</g>
<path class="grid" d="M73.3 80.4 H503 M73.3 97.9 H503 M73.3 122.9 H503 M73.3 147.9 H503 M73.3 172.8 H503 M73.3 197.8 H503 M73.3 222.8 H503 M73.3 247.8 H503"/>
<text class="wm" x="266.7" y="155.9">紫金天风期货</text>
</g>
<path class="s" stroke="#bfb27c" d="M77 250 L85.3 250 L94.2 237.3 L101.7 235.8 L125 235.8 L134.2 222 L143.3 211.2 L151.2 165.3 L160 165.3 L168.3 164.5 L176.7 155.3 L185 153.7 L193.3 158.7 L203.3 153.7 L211.7 153.7 L220 152.8 L230 152 L236.7 150.3 L241.7 155.3 L245.8 172.8 L254.2 162.8 L261.7 162.8 L270.3 170 L279.2 150.3 L287.5 155.3 L295.8 147.3 L304.2 147.3 L312.5 136.2 L320.8 133.7 L328.3 141.2 L336.7 135 L345 138.7 L353.3 134.5 L361.7 138.7 L370 141.2 L378.3 148.7 L386.7 147 L395 141.2 L402.5 141.2 L411.2 141.2 L415.3 137 L423.7 135.3 L432 138.7 L440.3 143.7 L448.7 133.3 L457 167 L465.3 177.8 L473.7 182.8 L482 189.5 L490.3 190.3 L498.7 192.8"/>
<path class="s" stroke="#fdc52a" d="M75.8 205.7 L84.2 210.8 L92.5 212.8 L100 212.8 L108.7 211.7 L115.8 211.7 L123.3 171.2 L132.5 169.5 L141.7 184.5 L150 170.3 L158.3 187.8 L163.3 164.5 L168.3 147 L175 129.5 L184.2 132 L192.5 158.7 L201.7 154 L210 153.3 L218.3 128.7 L227.5 103.3 L236.7 104 L244.2 104.5 L252.5 103.2 L260.8 99.2 L269.2 97.8 L276.7 100 L285.8 104 L293.3 104.2 L302.5 118.7 L311.7 122.8 L320 125.3 L326.7 125.8 L335 128.7 L344.2 130.7 L353.3 132 L360 139.5 L365 148.7 L370.8 161.2 L376.7 159.8 L385 164.5 L393.3 157 L405.3 161.2 L414.5 135.3 L422.8 136.2 L430.3 138.7 L438.7 134.5 L447.8 137 L455.3 144.5 L463.7 157 L472 177 L480.3 193.3 L493.7 193.3"/>
<path class="s" stroke="#1d939f" d="M73.7 195.3 L81.7 192.8 L90 192 L99.2 169.8 L106.7 169.8 L114 165 L130 165 L139 163 L155 163 L163 166.5 L172 155.3 L176.7 151.2 L180.8 154 L189.2 165.3 L197.5 164.5 L206.7 165 L216.7 172.8 L224.2 167.8 L233.3 150.3 L241.7 150.3 L248.3 142 L257.5 140 L265.8 136.7 L274.7 135.3 L283 143.7 L290 155 L299.7 150.3 L308 151.2 L316.3 159.5 L324.2 157 L332.5 156.7 L340.8 139.5 L349.2 137.5 L356.7 139.5 L363.3 148.7 L374.2 174.5 L382.5 165.3 L390.8 140.3 L399.5 137.5 L407 138.3 L413.7 138.7 L420.3 129.5 L427.8 128.3 L437 132.8 L444.5 132.8 L452.8 163.3 L460.3 163.3 L468.7 161.2 L477 167 L485.3 168.7 L493.7 183.7 L502.8 196.2"/>
<path class="s" stroke="#5f45a8" d="M80 197.8 L88.3 202.8 L95.8 199.2 L104.2 199 L111.7 193.7 L120 188.7 L127.5 173.3 L136.7 172.8 L145.8 166.5 L154.2 173.3 L162.5 170.3 L170.8 176.2 L179.2 181.2 L187.5 175.3 L197.5 148.7 L205.8 137 L214.2 131.2 L221.7 130 L230.8 131.2 L240 136.2 L247.5 143.7 L256.7 143.7 L265 149.8 L273.3 141.2 L281.7 140.7 L290 127.5 L297.5 130 L305.8 130 L315 130.3 L323.3 131.7 L331.7 131.7 L340 137 L347.5 129 L355.8 128.7 L364.2 127.5 L372.5 133.7 L380.8 152.8 L389.2 153.3 L397.5 162 L409.5 155.7 L418.7 153.2 L426.5 152.8 L434.5 132.8 L442.8 136.7 L451.2 136.7 L459.5 144.5 L468.2 145.7 L476.2 158.7 L484.5 172 L492.8 188.7 L501.2 208.3"/>
<path class="s" stroke="#8e1a75" d="M78.7 207.8 L86.7 199.5 L95 201.2 L103.3 192.8 L111.7 180.3 L118 166 L130 158.5 L135 153.5 L144.5 157.5 L155 155.5 L165 151 L170 147 L178.3 135.3 L186.7 130.3 L195 130 L211.7 130 L220.8 130 L230 117.8 L239.2 119.5 L247.5 127 L255.8 124.5 L264.2 128.3 L271.7 133.7 L280 132 L288.3 156.7 L296.7 116.7 L305 110.8 L313.3 120.7 L321.7 122.3 L346.7 122.3 L355 121.2 L363.3 144.5 L371.7 154.5 L380 148.7 L388.3 141.2 L395.8 138.3 L404.2 137.8 L409.2 122.3 L433.7 122.3 L441.2 140.3 L449.5 157 L458.7 157.8 L467 156.7 L474.5 155.3 L483.7 163.3 L492 183.7 L499.5 186.2"/>
<path class="s" stroke="#d0c5b0" d="M76.7 186.2 L91.7 186.2 L100 177 L109.5 155.5 L152 155.5 L155 161 L160 166 L165 157 L173.3 152 L181.7 150.3 L191.7 149.5 L201.7 151.2 L211.7 150.3 L220 142 L230 140 L236.7 142.8 L243.3 157 L245.8 157 L254.2 143.3 L270 143.3 L278.3 157 L287.5 159.5 L295 201.2 L303.3 205.3 L311.7 205.3 L320 188.7 L328.3 177.8 L336.7 175.3 L345 169.5 L353.3 144.5 L361.7 147 L370 147 L378.3 143.7 L386.7 138.7 L395 137.8 L403.3 138.7 L415.3 137 L423.7 136.2 L432 142 L440.3 152 L448.7 157.8 L458.7 157.8 L468.7 157.8 L473.7 159.5 L482 172 L488.7 187 L497 193.7"/>
<path class="s" stroke="#d14848" d="M78.3 193.7 L91.7 193.7 L100 187 L103 179 L109 163 L115 156 L131 155.7 L140 149 L150 149.5 L157 145.5 L165 144.8 L173.3 150.3 L181.7 145.3 L190 140.3 L199.2 147.8 L209.2 153.3 L217.5 155.3 L225.8 165.3 L235 165.3 L243.3 148.7 L251.7 143.7 L260 142.8 L268.3 133.7 L275.8 129.2 L284.2 130 L300.8 130 L309.2 131.7 L317.5 132.3 L325 131.7 L333.3 131.2 L343.3 131.2 L351.3 141.7 L359.2 134.5 L367.5 135.3 L375 135.3 L400 135.3 L413.7 137.8 L421.2 140.3 L430.3 147.8 L438.7 150.3 L447 151.7 L455.3 152.5 L462.8 152.8 L471.2 169.5 L479.5 177 L495.3 202.5"/>
<path class="s avg" stroke="#6a6a6a" d="M75.8 197.8 L76.7 203.7 L81.7 206.2 L88.3 205.7 L95 202 L101.7 197.8 L108.7 192.5 L116.7 185.3 L123.3 177 L128.3 172.8 L136.7 172 L144.7 170 L153.3 161.2 L160.8 165.3 L168.3 160.3 L173.3 153.7 L180.8 150.3 L190 149.5 L196.7 152 L203.3 148.7 L211.7 149.5 L216.7 148.7 L223.3 143.7 L231.7 140.3 L238.3 137 L244.2 135.3 L251.7 141.2 L260 137 L270 135.7 L280 134.5 L284.2 142 L288.3 140 L298.3 140 L306.7 142 L316.7 143.7 L324.2 141.2 L333.3 140.3 L341.7 138.7 L350 136.2 L360 135.3 L366.7 141.2 L373.3 146.2 L378.3 149.5 L386.7 148.7 L395.8 142.8 L407 144.5 L413.7 137.8 L423.7 136.2 L432 139 L438.7 135.3 L445.3 143.7 L452 147 L457 155.3 L462 156.2 L468.2 159.5 L475.3 165.3 L482 168.7 L488.7 180.3 L495.3 192"/>
<path class="s cur" stroke="#2d4556" d="M72.5 196.5 L81.3 188.7 L89 166 L97 153.5 L105 151 L155 151 L163.5 157 L171 148 L180.8 142.8 L189.2 141.2 L198.3 142.8 L208 147.8 L216.7 149.2 L225 148.7 L234.2 147 L243.3 147.3 L250 147.8 L258.7 148.7"/>
<circle cx="432.5" cy="139" r="1.5" fill="#fff" stroke="#bfb27c" stroke-width="0.8"/>
<circle cx="108.7" cy="211.7" r="1.5" fill="#fff" stroke="#fdc52a" stroke-width="0.8"/>
<circle cx="252.6" cy="103.2" r="1.5" fill="#fff" stroke="#fdc52a" stroke-width="0.8"/>
<circle cx="360.5" cy="140.4" r="1.5" fill="#fff" stroke="#fdc52a" stroke-width="0.8"/>
<circle cx="181" cy="154.3" r="1.5" fill="#fff" stroke="#1d939f" stroke-width="0.8"/>
<circle cx="217.2" cy="172.5" r="1.5" fill="#fff" stroke="#1d939f" stroke-width="0.8"/>
<circle cx="324.4" cy="157" r="1.5" fill="#fff" stroke="#1d939f" stroke-width="0.8"/>
<circle cx="468.4" cy="146" r="1.5" fill="#fff" stroke="#5f45a8" stroke-width="0.8"/>
<circle cx="145" cy="157.4" r="1.5" fill="#fff" stroke="#8e1a75" stroke-width="0.8"/>
<circle cx="288.5" cy="155.7" r="1.5" fill="#fff" stroke="#8e1a75" stroke-width="0.8"/>
<circle cx="396.3" cy="138.3" r="1.5" fill="#fff" stroke="#8e1a75" stroke-width="0.8"/>
<circle cx="432.5" cy="142.6" r="1.5" fill="#fff" stroke="#d0c5b0" stroke-width="0.8"/>
<circle cx="108.7" cy="163.8" r="1.5" fill="#fff" stroke="#d14848" stroke-width="0.8"/>
<circle cx="108.7" cy="192.5" r="1.5" fill="#fff" stroke="#6a6a6a" stroke-width="0.8"/>
<circle cx="145" cy="169.7" r="1.5" fill="#fff" stroke="#6a6a6a" stroke-width="0.8"/>
<circle cx="181" cy="150.3" r="1.5" fill="#fff" stroke="#6a6a6a" stroke-width="0.8"/>
<circle cx="217.2" cy="148.3" r="1.5" fill="#fff" stroke="#6a6a6a" stroke-width="0.8"/>
<circle cx="252.6" cy="140.7" r="1.5" fill="#fff" stroke="#6a6a6a" stroke-width="0.8"/>
<circle cx="288.5" cy="140" r="1.5" fill="#fff" stroke="#6a6a6a" stroke-width="0.8"/>
<circle cx="324.4" cy="141.2" r="1.5" fill="#fff" stroke="#6a6a6a" stroke-width="0.8"/>
<circle cx="360.5" cy="135.7" r="1.5" fill="#fff" stroke="#6a6a6a" stroke-width="0.8"/>
<circle cx="396.3" cy="142.9" r="1.5" fill="#fff" stroke="#6a6a6a" stroke-width="0.8"/>
<circle cx="432.5" cy="138.7" r="1.5" fill="#fff" stroke="#6a6a6a" stroke-width="0.8"/>
<circle cx="468.4" cy="159.7" r="1.5" fill="#fff" stroke="#6a6a6a" stroke-width="0.8"/>
<circle cx="73.3" cy="195.8" r="1.5" fill="#fff" stroke="#2d4556" stroke-width="0.8"/>
<circle cx="181" cy="142.8" r="1.5" fill="#fff" stroke="#2d4556" stroke-width="0.8"/>
<circle cx="217.2" cy="149.2" r="1.5" fill="#fff" stroke="#2d4556" stroke-width="0.8"/>
<g transform="translate(0 0.4)">
<path class="axis" d="M73.3 79.5 V252.4 M72.8 252.4 H503 M69.8 80.4 h3.5 M69.8 97.9 h3.5 M69.8 122.9 h3.5 M69.8 147.9 h3.5 M69.8 172.8 h3.5 M69.8 197.8 h3.5 M69.8 222.8 h3.5 M69.8 247.8 h3.5 M69.8 252.4 h3.5 M108.7 252.4 v3.5 M145 252.4 v3.5 M181 252.4 v3.5 M217.2 252.4 v3.5 M252.6 252.4 v3.5 M288.5 252.4 v3.5 M324.4 252.4 v3.5 M360.5 252.4 v3.5 M396.3 252.4 v3.5 M432.5 252.4 v3.5"/>
<g class="yl">
<text transform="translate(66.6 83.4) scale(0.93 1)">0.77</text>
<text transform="translate(66.6 100.9) scale(0.93 1)">0.7</text>
<text transform="translate(66.6 125.9) scale(0.93 1)">0.6</text>
<text transform="translate(66.6 175.8) scale(0.93 1)">0.4</text>
<text transform="translate(66.6 200.8) scale(0.93 1)">0.3</text>
<text transform="translate(66.6 225.8) scale(0.93 1)">0.2</text>
<text transform="translate(66.6 250.8) scale(0.93 1)">0.1</text>
</g>
<g class="xl">
<text transform="translate(108.7 266.3) scale(1.0 1)">02-01</text>
<text transform="translate(145 266.3) scale(1.0 1)">03-03</text>
<text transform="translate(181 266.3) scale(1.0 1)">04-03</text>
<text transform="translate(217.2 266.3) scale(1.0 1)">04-30</text>
<text class="st" transform="translate(287.2 266.3) scale(1.0 1)">-30</text>
<text transform="translate(324.4 266.3) scale(1.0 1)">07-30</text>
<text transform="translate(360.5 266.3) scale(1.0 1)">08-30</text>
<text transform="translate(396.3 266.3) scale(1.0 1)">09-29</text>
<text transform="translate(432.5 266.3) scale(1.0 1)">11-02</text>
<text class="b" transform="translate(258.8 267.7) scale(1.05 1)">06-06</text>
</g>
<path class="tag" d="M32.5 137.1 H67 L70.5 144.6 L67 152.1 H32.5 Z"/>
<text class="cv" transform="translate(66.8 149.2) scale(1.03 1)">0.495</text>
<path class="rz" d="M524.2 269.4 H528.6 V265.4"/>
</g>
</svg></div>
</body>
</html>
